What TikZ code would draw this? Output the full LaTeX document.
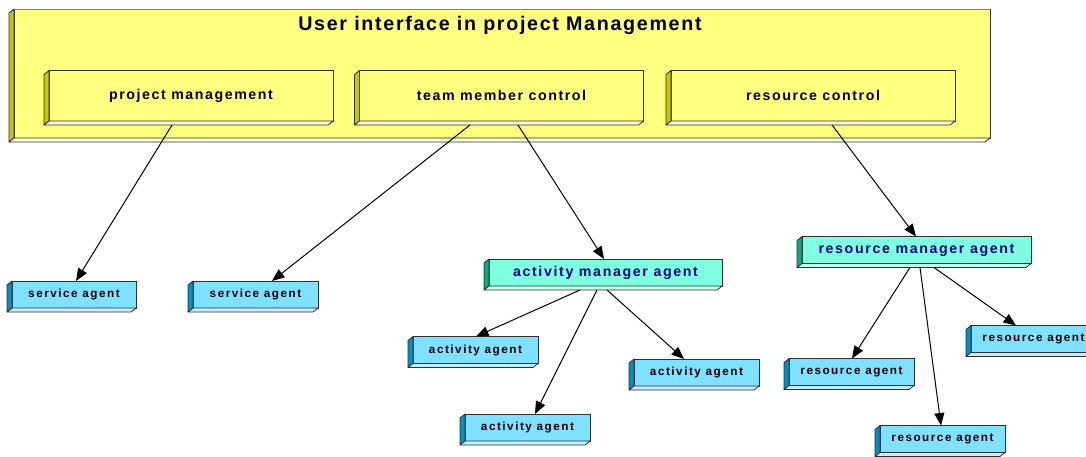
\documentclass[tikz,border=0pt]{standalone}
\usepackage{fontspec}
\setmainfont{Liberation Sans}
\usetikzlibrary{arrows.meta}
\definecolor{yface}{HTML}{FFFF80}
\definecolor{yside}{HTML}{C8C800}
\definecolor{ybot}{HTML}{FFFFD0}
\definecolor{bface}{HTML}{80E0FF}
\definecolor{bside}{HTML}{0090C8}
\definecolor{bbot}{HTML}{C0F0FF}
\definecolor{tface}{HTML}{80FFE0}
\definecolor{tside}{HTML}{00B080}
\definecolor{tbot}{HTML}{C0FFF0}
\definecolor{edge}{HTML}{303030}
\definecolor{navytext}{HTML}{000090}
\newcommand\sidefaces[3]{%
  \filldraw[fill=#2,draw=edge,line width=0.8pt,line join=round]
    (#1.north west) -- ++(-5,4) -- ([shift={(-5,4)}]#1.south west) -- (#1.south west) -- cycle;
  \filldraw[fill=#3,draw=edge,line width=0.8pt,line join=round]
    (#1.south west) -- ++(-5,4) -- ([shift={(-5,4)}]#1.south east) -- (#1.south east) -- cycle;
}
\begin{document}
\begin{tikzpicture}[x=1pt,y=-1pt,
  boxbase/.style={rectangle,draw=edge,line width=0.8pt,inner sep=0pt,outer sep=0pt,anchor=center},
  ybox/.style={boxbase,fill=yface,minimum width=284pt,minimum height=50.5pt,
     font=\fontsize{14.2}{16}\selectfont\bfseries\addfontfeature{LetterSpace=11}},
  mbox/.style={boxbase,fill=tface,minimum height=27pt,text=navytext,
     font=\fontsize{14.2}{16}\selectfont\bfseries\addfontfeature{LetterSpace=11.5}},
  sbox/.style={boxbase,fill=bface,minimum width=125pt,minimum height=27pt,
     font=\fontsize{11.7}{13}\selectfont\bfseries\addfontfeature{LetterSpace=13}},
  arr/.style={draw=black,line width=1pt,-{Triangle[length=12.5pt,width=10pt]}}]
\useasboundingbox (0,0) rectangle (1086,456);
\clip (0,0) rectangle (1086,456);
% outer box
\node[boxbase,fill=yface,minimum width=976pt,minimum height=129pt] (ui) at (502,73.5) {};
\draw[gray,line width=1pt] (ui.north west) -- (ui.north east);
\sidefaces{ui}{yside}{ybot}
\node[font=\fontsize{19.7}{22}\selectfont\bfseries\addfontfeature{LetterSpace=8.5},inner sep=0pt] (title) at (500,25) {User interface in project Management};
% inner boxes
\node[ybox] (pm) at (191,95.75) {project management};
\sidefaces{pm}{yside}{ybot}
\node[ybox] (tm) at (501.5,95.75) {team member control};
\sidefaces{tm}{yside}{ybot}
\node[ybox] (rc) at (813,95.75) {resource control};
\sidefaces{rc}{yside}{ybot}
% service agents
\node[sbox,minimum width=124pt] (sa1) at (74,294.5) {service agent};
\sidefaces{sa1}{bside}{bbot}
\node[sbox] (sa2) at (255.5,294.5) {service agent};
\sidefaces{sa2}{bside}{bbot}
% activity manager
\node[mbox,minimum width=233pt] (amg) at (605.5,272.5) {activity manager agent};
\sidefaces{amg}{tside}{tbot}
\node[sbox] (a1) at (475.5,350) {activity agent};
\sidefaces{a1}{bside}{bbot}
\node[sbox] (a2) at (527.5,427.5) {activity agent};
\sidefaces{a2}{bside}{bbot}
\node[sbox] (a3) at (696.5,372.5) {activity agent};
\sidefaces{a3}{bside}{bbot}
% resource manager
\node[mbox,minimum width=229pt] (rmg) at (916.5,250) {resource manager agent};
\sidefaces{rmg}{tside}{tbot}
\node[sbox] (r1) at (851.5,372) {resource agent};
\sidefaces{r1}{bside}{bbot}
\node[sbox] (r2) at (942.5,439) {resource agent};
\sidefaces{r2}{bside}{bbot}
\node[sbox] (r3) at (1033.5,339) {resource agent};
\sidefaces{r3}{bside}{bbot}
% connectors
\draw[arr] ([xshift=-19pt,yshift=-4pt]pm.south) -- ([xshift=2pt]sa1.north);
\draw[arr] ([xshift=-31.5pt,yshift=-4pt]tm.south) -- ([xshift=16.5pt]sa2.north);
\draw[arr] ([xshift=16.5pt,yshift=-4pt]tm.south) -- ([xshift=-1.5pt]amg.north);
\draw[arr] ([xshift=19pt,yshift=-4pt]rc.south) -- ([xshift=-0.5pt]rmg.north);
\draw[arr] ([xshift=-25.5pt,yshift=-4pt]amg.south) -- ([xshift=0.5pt]a1.north);
\draw[arr] ([xshift=-8.5pt,yshift=-4pt]amg.south) -- ([xshift=7.5pt]a2.north);
\draw[arr] ([xshift=1.5pt,yshift=-4pt]amg.south) -- ([xshift=-12.5pt]a3.north);
\draw[arr] ([xshift=-6.5pt,yshift=-4pt]rmg.south) -- ([xshift=0.5pt]r1.north);
\draw[arr] ([xshift=3.5pt,yshift=-4pt]rmg.south) -- ([xshift=-1.5pt]r2.north);
\draw[arr] ([xshift=17.5pt,yshift=-4pt]rmg.south) -- ([xshift=-17.5pt]r3.north);
\end{tikzpicture}
\end{document}
